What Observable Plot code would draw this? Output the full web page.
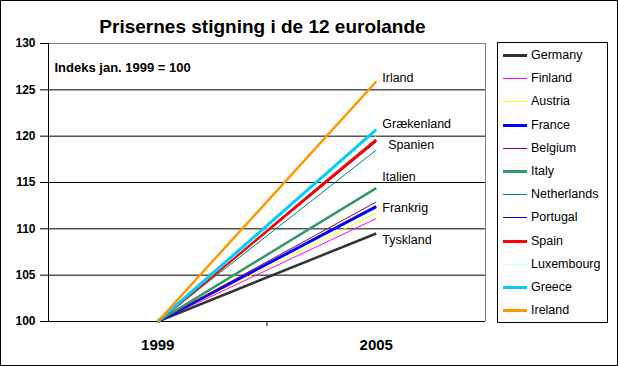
<!DOCTYPE html>
<html><head><meta charset="utf-8">
<script src="https://cdn.jsdelivr.net/npm/d3@7"></script>
<script src="https://cdn.jsdelivr.net/npm/@observablehq/plot@0.6"></script>
<style>
body{margin:0;background:#fff;}
#wrap{position:relative;width:618px;height:366px;overflow:hidden;font-family:"Liberation Sans",Arial,sans-serif;background:#fff;}
#wrap svg{position:absolute;left:0;top:0;}
#border{position:absolute;left:0;top:0;width:618px;height:366px;box-sizing:border-box;border:1px solid #000;pointer-events:none;}
#title{position:absolute;left:0;width:525px;top:17px;text-align:center;font-weight:bold;font-size:19px;line-height:19px;white-space:nowrap;}
#legend{position:absolute;left:497px;top:42px;width:111px;height:281px;box-sizing:border-box;border:1px solid #000;background:#fff;}
.entry{position:absolute;left:0;height:16px;width:109px;}
.entry .sw{position:absolute;left:5px;width:24px;}
.entry .lb{position:absolute;left:33px;top:0;font-size:12.5px;line-height:16px;white-space:nowrap;}
</style></head>
<body>
<div id="wrap">
  <div id="title">Prisernes stigning i de 12 eurolande</div>
  <div id="legend"></div>
  <div id="border"></div>
</div>
<script>
// Data
const years = [1999, 2005];
const countries = ["Germany","Finland","Austria","France","Belgium","Italy","Netherlands","Portugal","Spain","Luxembourg","Greece","Ireland"];
const values1999 = [100,100,100,100,100,100,100,100,100,100,100,100];
const values2005 = [109.5,111.1,111.7,112.4,112.9,114.4,118.5,119.4,119.6,120.0,120.7,125.9];
const colors = ["#333333","#ff00ff","#ffff00","#0000ff","#800080","#339966","#008080","#0000dd","#ff0000","#ccffff","#00ccff","#ff9900"];
const widths = [2.5,1,1,3,1,2.5,1,1,3,1,3,2.5];
const swatchWidths = [3,1,1,3,1,3,1,1,3,1,3,3];
const yTicks = [100,105,110,115,120,125,130];
const xTickLabels = ["1999","2005"];
const labelCountries = ["Ireland","Greece","Spain","Italy","France","Germany"];
const labelTexts = ["Irland","Grækenland","Spanien","Italien","Frankrig","Tyskland"];
const labelDx = [6,6,12,6,6,6];
const labelDy = [-3,-6,5,-11,1,7];
const note = "Indeks jan. 1999 = 100";

const rows = [];
countries.forEach((c, i) => {
  rows.push({country: c, year: years[0], value: values1999[i]});
  rows.push({country: c, year: years[1], value: values2005[i]});
});

const marks = [
  Plot.ruleY([105,110,115,120,125], {stroke: "#000", strokeWidth: 1}),
  Plot.ruleY([130], {stroke: "#808080"}),
  Plot.ruleX([2008], {stroke: "#808080"}),
  Plot.ruleX([1996], {stroke: "#000"}),
  Plot.ruleY([100], {stroke: "#000"}),
  Plot.axisY(yTicks, {tickSize: 8, tickPadding: 5, fontSize: 12, fontWeight: "bold", stroke: "#000", label: null, tickFormat: d => String(d)}),
  Plot.axisX([2002], {tickSize: 5, tickFormat: () => "", label: null}),
  Plot.axisX(years, {tickSize: 0, tickPadding: 18, fontSize: 15, fontWeight: "bold", label: null, tickFormat: (d, i) => xTickLabels[i]}),
];
countries.forEach((c, i) => {
  marks.push(Plot.line(rows.filter(r => r.country === c), {x: "year", y: "value", stroke: colors[i], strokeWidth: widths[i], strokeLinecap: "butt"}));
});
labelCountries.forEach((c, i) => {
  const k = countries.indexOf(c);
  marks.push(Plot.text([{year: years[1], value: values2005[k], t: labelTexts[i]}], {x: "year", y: "value", text: "t", dx: labelDx[i], dy: labelDy[i], textAnchor: "start", fontSize: 12.5, fill: "#000"}));
});
marks.push(Plot.text([note], {frameAnchor: "top-left", dx: 6, dy: 19, text: d => d, textAnchor: "start", fontSize: 13, fontWeight: "bold", fill: "#000"}));

const chart = Plot.plot({
  width: 618, height: 366,
  marginLeft: 48, marginRight: 133, marginTop: 43, marginBottom: 45,
  style: {fontFamily: '"Liberation Sans", Arial, sans-serif', color: "#000", background: "transparent"},
  x: {type: "linear", domain: [1996, 2008], axis: null},
  y: {domain: [100, 130], axis: null},
  marks
});
document.getElementById("wrap").insertBefore(chart, document.getElementById("title"));

// Legend
const legend = document.getElementById("legend");
countries.forEach((c, i) => {
  const cy = Math.round(55 + i * 23.2 - 43);
  const e = document.createElement("div");
  e.className = "entry";
  e.style.top = (cy - 8) + "px";
  const sw = document.createElement("div");
  sw.className = "sw";
  sw.style.background = colors[i];
  const h = swatchWidths[i];
  sw.style.height = h + "px";
  sw.style.top = Math.round(8 - h / 2) + "px";
  const lb = document.createElement("div");
  lb.className = "lb";
  lb.textContent = c;
  e.appendChild(sw); e.appendChild(lb);
  legend.appendChild(e);
});
</script>
</body></html>
